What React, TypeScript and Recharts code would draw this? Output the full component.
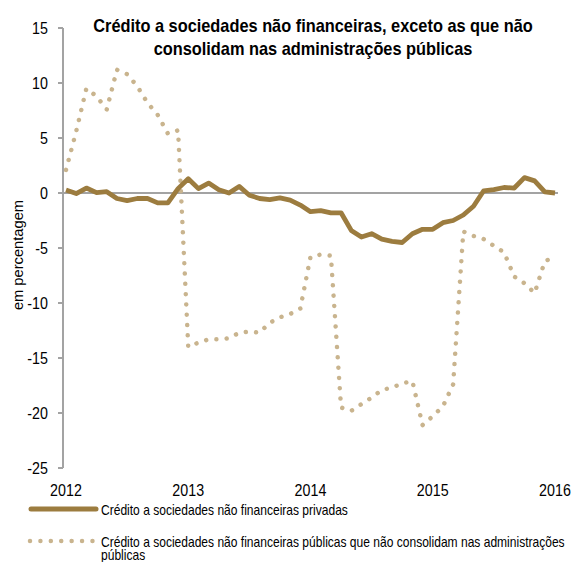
import { LineChart, Line, XAxis, YAxis, ReferenceLine, Legend } from 'recharts'

// monthly values, Jan 2012 .. Jan 2016 (percent)
const PRIVATE = [
    0.27, -0.05, 0.45, 0.03, 0.12, -0.5, -0.7, -0.5, -0.5, -0.9, -0.9, 0.4,
    1.3, 0.4, 0.9, 0.3, 0.0, 0.6, -0.2, -0.5, -0.6, -0.45, -0.65, -1.1,
    -1.7, -1.6, -1.8, -1.8, -3.4, -4.0, -3.7, -4.2, -4.4, -4.5, -3.7, -3.3,
    -3.3, -2.7, -2.5, -2.0, -1.2, 0.2, 0.3, 0.5, 0.45, 1.4, 1.1, 0.1,
    0.0,
]
const PUBLIC = [
    2.1, 5.6, 9.5, 8.8, 7.6, 11.2, 10.8, 9.7, 8.2, 7.1, 5.4, 5.7,
    -14.0, -13.6, -13.3, -13.3, -13.2, -12.7, -12.6, -12.7, -11.8, -11.3, -11.0, -10.5,
    -5.8, -5.6, -5.7, -19.5, -19.8, -19.2, -18.6, -17.9, -17.7, -17.3, -17.1, -21.1,
    -20.3, -19.4, -17.4, -3.5, -3.9, -4.2, -4.8, -5.4, -7.6, -8.2, -9.1, -6.2,
    -5.8,
]
const YEAR_TICKS = [0, 12, 24, 36, 48]
const YEAR_LABELS = ['2012', '2013', '2014', '2015', '2016']
const Y_TICKS = [-25, -20, -15, -10, -5, 0, 5, 10, 15]

const NAME_PRIVATE = 'Crédito a sociedades não financeiras privadas'
const NAME_PUBLIC = 'Crédito a sociedades não financeiras públicas que não consolidam nas administrações públicas'

const rows = PRIVATE.map((v, i) => ({ m: i, priv: v, pub: PUBLIC[i] }))

const FONT = "'Liberation Sans', Arial, sans-serif"
const SOLID = '#9C7C3F'
const DOTS = '#C9B48E'
const GREY = '#A3A3A3'

function XTick({ x, y, payload }: any) {
    const label = YEAR_LABELS[YEAR_TICKS.indexOf(payload.value)]
    return (
        <text transform={`translate(${x},${y + 28}) scale(0.84,1)`} textAnchor='middle'
            fontSize={17} fontFamily={FONT} fill='#000'>{label}</text>
    )
}

function YTick({ x, y, payload }: any) {
    return (
        <text transform={`translate(${x},${y + 6}) scale(0.84,1)`} textAnchor='end'
            fontSize={17} fontFamily={FONT} fill='#000'>{payload.value}</text>
    )
}

function YLabel({ viewBox }: any) {
    const cx = 23
    const cy = viewBox.y + viewBox.height / 2 + 7
    return (
        <text x={cx} y={cy} transform={`rotate(-90 ${cx} ${cy})`} textAnchor='middle'
            fontSize={14.7} fontFamily={FONT} fill='#000'>em percentagem</text>
    )
}

function LegendRows({ payload }: any) {
    const items = payload || []
    const text = {
        position: 'absolute' as const, left: 101, width: 572,
        fontSize: 14.5, lineHeight: '13px', fontFamily: FONT, color: '#000',
        transform: 'scaleX(0.83)', transformOrigin: 'left top',
    }
    return (
        <div style={{ position: 'relative', width: 575, height: 67 }}>
            <svg width={110} height={67} style={{ position: 'absolute', left: 0, top: 0 }}>
                <line x1={31} x2={96} y1={14} y2={14} stroke={items[0]?.color || SOLID}
                    strokeWidth={5} strokeLinecap='round' />
                <line x1={30} x2={93} y1={46} y2={46} stroke={items[1]?.color || DOTS}
                    strokeWidth={4.5} strokeDasharray='0.01 10.4' strokeLinecap='round' />
            </svg>
            <div style={{ ...text, top: 8.5 }}>{items[0]?.value}</div>
            <div style={{ ...text, top: 40.5 }}>{items[1]?.value}</div>
        </div>
    )
}

export default function App() {
    return (
        <div style={{ position: 'absolute', left: 0, top: 0, width: 575, height: 562, overflow: 'hidden', background: '#fff' }}>
            <div style={{
                position: 'absolute', left: 13, top: 14, width: 600, textAlign: 'center',
                fontFamily: FONT, fontWeight: 'bold', fontSize: 19, lineHeight: '23px', color: '#000',
                transform: 'scaleX(0.86)', transformOrigin: '50% 0', zIndex: 2,
            }}>
                Crédito a sociedades não financeiras, exceto as que não<br />
                consolidam nas administrações públicas
            </div>
            <LineChart width={575} height={562} data={rows}
                margin={{ top: 28, right: 17, left: 0, bottom: 54 }}>
                <XAxis dataKey='m' type='number' domain={[0, 48]} ticks={YEAR_TICKS}
                    padding={{ left: 3, right: 3 }} axisLine={false} tickLine={false}
                    tickSize={0} tickMargin={0} height={40} tick={<XTick />} interval={0} />
                <YAxis domain={[-25, 15]} ticks={Y_TICKS} width={63} interval={0}
                    axisLine={{ stroke: GREY, strokeWidth: 2 }}
                    tickLine={{ stroke: GREY, strokeWidth: 2 }} tickSize={5} tickMargin={10}
                    tick={<YTick />} label={<YLabel />} />
                <ReferenceLine y={0} stroke={GREY} strokeWidth={2} />
                <Line dataKey='pub' name={NAME_PUBLIC} stroke={DOTS} strokeWidth={4.5}
                    strokeDasharray='0.01 10.3' strokeLinecap='round' dot={false} activeDot={false}
                    type='linear' isAnimationActive={false} legendType='line' />
                <Line dataKey='priv' name={NAME_PRIVATE} stroke={SOLID} strokeWidth={4.8}
                    strokeLinejoin='round' dot={false} activeDot={false}
                    type='linear' isAnimationActive={false} legendType='line' />
                <Legend layout='horizontal' verticalAlign='middle' align='center'
                    wrapperStyle={{ left: 0, top: 495, width: 575, height: 67 }}
                    itemSorter={(item: any) => (item.dataKey === 'priv' ? 0 : 1)}
                    content={<LegendRows />} />
            </LineChart>
        </div>
    )
}
